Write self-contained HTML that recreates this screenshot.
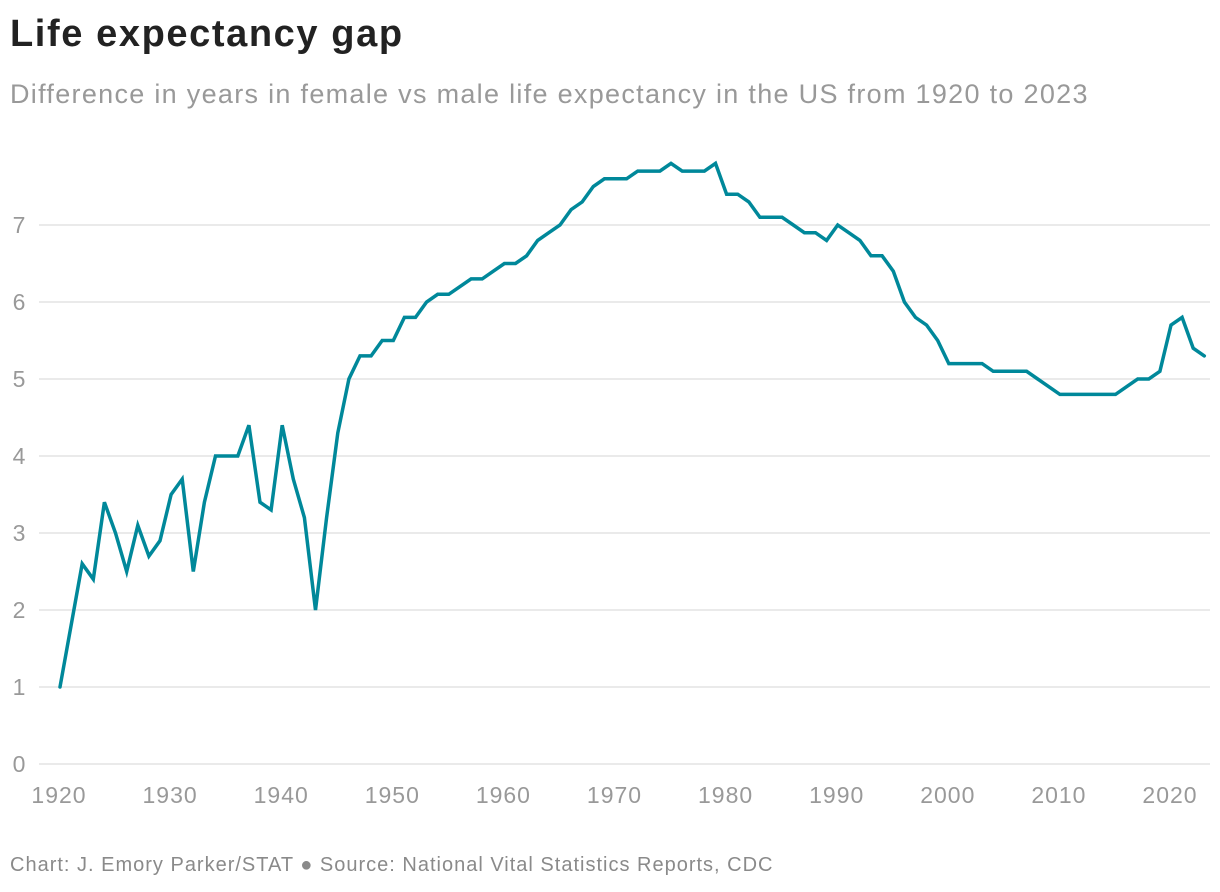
<!DOCTYPE html>
<html><head><meta charset="utf-8"><style>
body{margin:0;background:#fff;font-family:"Liberation Sans",sans-serif;}
#wrap{position:relative;width:1220px;height:892px;overflow:hidden;}
#title{position:absolute;left:10px;top:13px;font-size:38px;font-weight:bold;color:#222;margin:0;letter-spacing:1.6px;}
#sub{position:absolute;left:10px;top:79px;font-size:27px;color:#999;letter-spacing:1.3px;}
#foot{position:absolute;left:10px;top:854px;font-size:20px;color:#8a8a8a;letter-spacing:1px;}
svg{position:absolute;left:0;top:0;}
</style></head><body>
<div id="wrap">
<h1 id="title">Life expectancy gap</h1>
<div id="sub">Difference in years in female vs male life expectancy in the US from 1920 to 2023</div>
<svg id="chart" width="1220" height="892"></svg>
<div id="foot">Chart: J. Emory Parker/STAT ● Source: National Vital Statistics Reports, CDC</div>
</div>
<script>
const startYear = 1920;
const gapValues = [1.0,1.8,2.6,2.4,3.4,3.0,2.5,3.1,2.7,2.9,3.5,3.7,2.5,3.4,4.0,4.0,4.0,4.4,3.4,3.3,
4.4,3.7,3.2,2.0,3.2,4.3,5.0,5.3,5.3,5.5,5.5,5.8,5.8,6.0,6.1,6.1,6.2,6.3,6.3,6.4,
6.5,6.5,6.6,6.8,6.9,7.0,7.2,7.3,7.5,7.6,7.6,7.6,7.7,7.7,7.7,7.8,7.7,7.7,7.7,7.8,
7.4,7.4,7.3,7.1,7.1,7.1,7.0,6.9,6.9,6.8,7.0,6.9,6.8,6.6,6.6,6.4,6.0,5.8,5.7,5.5,
5.2,5.2,5.2,5.2,5.1,5.1,5.1,5.1,5.0,4.9,4.8,4.8,4.8,4.8,4.8,4.8,4.9,5.0,5.0,5.1,
5.7,5.8,5.4,5.3];
const yTicks = [0,1,2,3,4,5,6,7];
const xTicks = [1920,1930,1940,1950,1960,1970,1980,1990,2000,2010,2020];

const NS = "http://www.w3.org/2000/svg";
const svg = document.getElementById('chart');
const x = yr => 60 + (yr - 1920) * 11.11;
const y = v => 764 - v * 77;
function mk(tag, attrs, parent){const e=document.createElementNS(NS,tag);for(const k in attrs)e.setAttribute(k,attrs[k]);(parent||svg).appendChild(e);return e;}

yTicks.forEach(t=>{
  const g = mk('line',{x1:39,x2:1210,y1:y(t),y2:y(t),stroke:'#e4e4e4','stroke-width':1.5});
  
  
  const l = mk('text',{x:19,y:y(t)+8,'text-anchor':'middle','font-size':23,fill:'#999','font-family':'Liberation Sans, sans-serif'});
  l.textContent = t;
  
  
});
xTicks.forEach(t=>{
  const l = mk('text',{x:x(t)-1,y:803,'text-anchor':'middle','font-size':23,'letter-spacing':'1px',fill:'#999','font-family':'Liberation Sans, sans-serif'});
  l.textContent = t;
  
  
});
const pts = gapValues.map((v,i)=>x(startYear+i).toFixed(1)+','+y(v).toFixed(1)).join(' ');
const line = mk('polyline',{points:pts,fill:'none',stroke:'#00889a','stroke-width':3.5,'stroke-linejoin':'miter','stroke-linecap':'round'});


</script>
</body></html>
